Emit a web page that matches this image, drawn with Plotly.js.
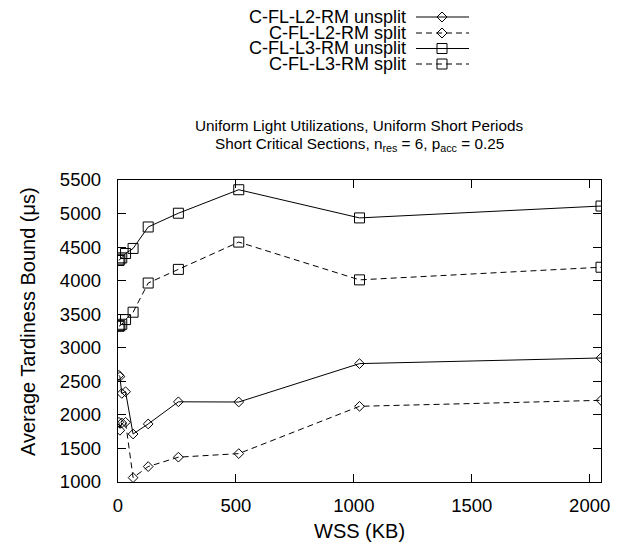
<!DOCTYPE html>
<html>
<head>
<meta charset="utf-8">
<script src="https://cdn.plot.ly/plotly-3.0.1.min.js"></script>
<style>html,body{margin:0;padding:0;background:#fff;}#chart{width:622px;height:550px;}</style>
</head>
<body>
<div id="chart"></div>
<script>
// ---- data ----
const wss = [4, 8, 16, 32, 64, 128, 256, 512, 1024, 2048];
const l2Unsplit = [2590, 2570, 2320, 2345, 1715, 1865, 2195, 2192, 2764, 2848];
const l2Split   = [1890, 1770, 1880, 1890, 1065, 1230, 1370, 1423, 2128, 2217];
const l3Unsplit = [4300, 4320, 4340, 4405, 4480, 4800, 5005, 5355, 4935, 5112];
const l3Split   = [3320, 3330, 3350, 3420, 3530, 3965, 4168, 4575, 4012, 4200];
const seriesNames = ["C-FL-L2-RM unsplit", "C-FL-L2-RM split", "C-FL-L3-RM unsplit", "C-FL-L3-RM split"];
const xTicks = [0, 500, 1000, 1500, 2000];
const yTicks = [1000, 1500, 2000, 2500, 3000, 3500, 4000, 4500, 5000, 5500];

const FONT = "Liberation Sans, Arial, Helvetica, sans-serif";
const W = 622, H = 550;
const M = {l: 118, r: 21, t: 180, b: 68};
const PW = W - M.l - M.r, PH = H - M.t - M.b;
const px2x = px => (px - M.l) / PW;
const py2y = py => (H - M.b - py) / PH;

const styles = [
  {dash: "solid", symbol: "diamond-open", size: 7.5},
  {dash: "6px,4px", symbol: "diamond-open", size: 7.5},
  {dash: "solid", symbol: "square-open", size: 10},
  {dash: "6px,4px", symbol: "square-open", size: 10}
];
const ys = [l2Unsplit, l2Split, l3Unsplit, l3Split];

const traces = ys.map((y, i) => ({
  x: wss, y: y, type: "scatter", mode: "lines+markers", name: seriesNames[i],
  showlegend: false,
  line: {color: "#000", width: 1, dash: styles[i].dash},
  marker: {symbol: styles[i].symbol, size: styles[i].size, color: "#000", line: {color: "#000", width: 1}}
}));

// manual legend (text left of sample, gnuplot style)
const rowsPy = [17, 33, 48.5, 64];
const annotations = [];
const shapes = [];
rowsPy.forEach((py, i) => {
  annotations.push({
    xref: "paper", yref: "paper", x: px2x(408), y: py2y(py), xanchor: "right", yanchor: "middle",
    text: seriesNames[i], showarrow: false, font: {family: FONT, size: 18, color: "#000"}
  });
  shapes.push({
    type: "line", xref: "paper", yref: "paper", x0: px2x(416), x1: px2x(469), y0: py2y(py), y1: py2y(py),
    line: {color: "#000", width: 1, dash: styles[i].dash}
  });
  const isDiamond = styles[i].symbol.indexOf("diamond") === 0;
  shapes.push({
    type: "path", xref: "paper", yref: "paper", xsizemode: "pixel", ysizemode: "pixel",
    xanchor: px2x(442), yanchor: py2y(py),
    path: isDiamond ? "M -5 0 L 0 5 L 5 0 L 0 -5 Z" : "M -5 -5 L 5 -5 L 5 5 L -5 5 Z",
    line: {color: "#000", width: 1}, fillcolor: "rgba(0,0,0,0)"
  });
});

// title lines
annotations.push({
  xref: "paper", yref: "paper", x: 0.5, y: py2y(125.5), xanchor: "center", yanchor: "middle",
  text: "Uniform Light Utilizations, Uniform Short Periods", showarrow: false,
  font: {family: FONT, size: 15.3, color: "#000"}
});
annotations.push({
  xref: "paper", yref: "paper", x: 0.5, y: py2y(133.5), xanchor: "center", yanchor: "top",
  text: "Short Critical Sections, n<sub>res</sub> = 6, p<sub>acc</sub> = 0.25", showarrow: false,
  font: {family: FONT, size: 15.3, color: "#000"}
});
// axis titles
annotations.push({
  xref: "paper", yref: "paper", x: px2x(28), y: py2y(322), xanchor: "center", yanchor: "middle",
  text: "Average Tardiness Bound (\u03bcs)", textangle: -90, showarrow: false,
  font: {family: FONT, size: 20, color: "#000"}
});
annotations.push({
  xref: "paper", yref: "paper", x: 0.5, y: py2y(531), xanchor: "center", yanchor: "middle",
  text: "WSS (KB)", showarrow: false,
  font: {family: FONT, size: 20, color: "#000"}
});

const axisCommon = {
  showline: true, linecolor: "#000", linewidth: 1.3, mirror: "allticks",
  ticks: "inside", ticklen: 8, tickwidth: 1, tickcolor: "#000",
  showgrid: false, zeroline: false,
  tickfont: {family: FONT, size: 18.5, color: "#000"}
};

const layout = {
  width: W, height: H, margin: M,
  paper_bgcolor: "#fff", plot_bgcolor: "#fff",
  showlegend: false,
  xaxis: Object.assign({}, axisCommon, {range: [0, 2048], tickmode: "array", tickvals: xTicks, ticktext: xTicks.map(String), ticklabelstandoff: 6}),
  yaxis: Object.assign({}, axisCommon, {range: [1000, 5500], tickmode: "array", tickvals: yTicks, ticktext: yTicks.map(String), ticklabelstandoff: 12}),
  annotations: annotations,
  shapes: shapes
};

Plotly.newPlot("chart", traces, layout, {staticPlot: true, displayModeBar: false});
</script>
</body>
</html>
